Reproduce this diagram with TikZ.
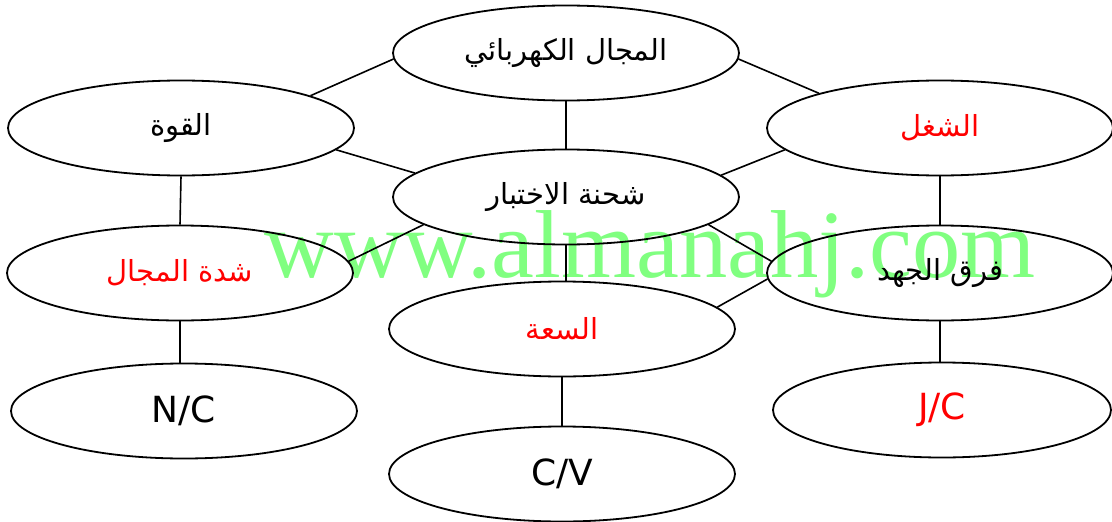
\documentclass[tikz,border=0pt]{standalone}
\usepackage{fontspec}
\usetikzlibrary{shapes.geometric}
\TeXXeTstate=1
\newfontfamily\arabicfont[Script=Arabic]{DejaVu Sans}
\newfontfamily\latinfont{DejaVu Sans}
\newfontfamily\wmfont{Liberation Serif}
\definecolor{wmgreen}{RGB}{128,255,128}
\definecolor{txtred}{RGB}{255,0,0}
\newcommand{\ar}[1]{\arabicfont\beginR #1\endR}
\begin{document}
\begin{tikzpicture}[x=1pt,y=-1pt,
  ell/.style={ellipse, draw, line width=1.8pt, minimum width=346pt, minimum height=95pt, inner sep=0pt,
    font=\fontsize{29}{34}\arabicfont},
  lat/.style={font=\fontsize{36}{40}\latinfont},
  red/.style={text=txtred},
  link/.style={line width=1.6pt},
  wm/.style={text=wmgreen, font=\fontsize{96.5}{100}\wmfont, inner sep=0pt, anchor=base}]
\useasboundingbox (0,0) rectangle (1112,522);
\node[wm] (wm) at (650,277) {www.almanahj.com};
\node[ell] (top) at (566,53) {\ar{المجال الكهربائي}};
\node[ell] (ctr) at (566,197) {\ar{شحنة الاختبار}};
\node[ell] (force) at (181,128) {\ar{القوة}};
\node[ell,red] (fld) at (180,273) {\ar{شدة المجال}};
\node[ell,red] (work) at (940,128) {\ar{الشغل}};
\node[ell] (pot) at (940,273) {\ar{فرق الجهد}};
\node[ell,red] (cap) at (562,329) {\ar{السعة}};
\node[ell,lat] (nc) at (184,411) {N/C};
\node[ell,lat] (cv) at (562,474) {C/V};
\node[ell,lat,red,minimum width=338pt] (jc) at (942,410) {J/C};
\draw[link] (top.182) -- (force.14);
\draw[link] (top.358) -- (work.164);
\draw[link] (top.south) -- (ctr.north);
\draw[link] (force.-8) -- (ctr.171);
\draw[link] (ctr.8) -- (work.188);
\draw[link] (ctr.191) -- (fld.4);
\draw[link] (ctr.-11) -- (pot.176);
\draw[link] (ctr.south) -- (ctr.south |- cap.north);
\draw[link] (cap.8) -- (pot.182);
\draw[link] (force.south) -- (fld.north);
\draw[link] (fld.south) -- (fld.south |- nc.north);
\draw[link] (work.south) -- (pot.north);
\draw[link] (pot.south) -- (pot.south |- jc.north);
\draw[link] (cap.south) -- (cv.north);
\end{tikzpicture}
\end{document}
